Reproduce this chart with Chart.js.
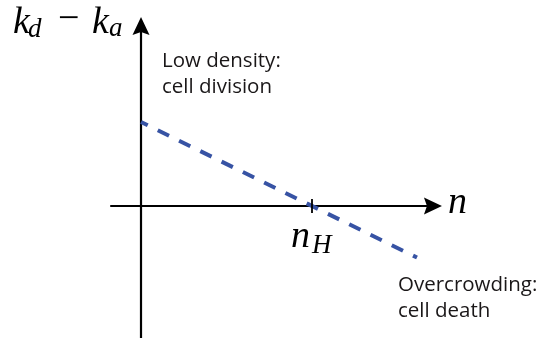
<!DOCTYPE html>
<html>
<head>
<meta charset="utf-8">
<script src="https://cdn.jsdelivr.net/npm/chart.js@4/dist/chart.umd.min.js"></script>
<style>
  html, body { margin: 0; padding: 0; background: #ffffff; }
  canvas { display: block; }
</style>
</head>
<body>
<canvas id="chart" width="541" height="341"></canvas>
<script>
// Density n, in units of the homeostatic density n_H
const densities = [0, 1.614];
// Net rate k_d - k_a, scaled to 1 at n = 0
const netRates = [1, -0.614];
// Where the net rate changes sign
const homeostaticDensity = 1;
// Extent of the drawn axes (data units)
const densityAxisSpan = [-0.18, 1.76];
const rateAxisSpan = [-1.57, 2.25];
// Annotation text
const lowDensityLines = ['Low density:', 'cell division'];
const crowdedLines = ['Overcrowding:', 'cell death'];

const INK = '#000000';
const LINE_BLUE = '#3753a4';
const MATH_FONT = '"Liberation Serif", "DejaVu Serif", serif';
const TEXT_FONT = '"Open Sans", "Noto Sans", sans-serif';

function arrowHead(ctx, tipX, tipY, dirX, dirY) {
  const len = 18, half = 8.5, notch = 3;
  const px = -dirY, py = dirX;
  ctx.beginPath();
  ctx.moveTo(tipX, tipY);
  ctx.lineTo(tipX - dirX * len + px * half, tipY - dirY * len + py * half);
  ctx.lineTo(tipX - dirX * (len - notch), tipY - dirY * (len - notch));
  ctx.lineTo(tipX - dirX * len - px * half, tipY - dirY * len - py * half);
  ctx.closePath();
  ctx.fill();
}

const axesPlugin = {
  id: 'phaseAxes',
  beforeDatasetsDraw(chart) {
    const { ctx, scales: { x, y } } = chart;
    const x0 = x.getPixelForValue(0), y0 = y.getPixelForValue(0);
    const xa = x.getPixelForValue(densityAxisSpan[0]);
    const xb = x.getPixelForValue(densityAxisSpan[1]);
    const ya = y.getPixelForValue(rateAxisSpan[0]);
    const yb = y.getPixelForValue(rateAxisSpan[1]);
    ctx.save();
    ctx.strokeStyle = INK;
    ctx.fillStyle = INK;
    ctx.lineWidth = 2.2;
    ctx.beginPath();
    ctx.moveTo(xa, y0); ctx.lineTo(xb - 12, y0);
    ctx.moveTo(x0, ya); ctx.lineTo(x0, yb + 12);
    ctx.stroke();
    arrowHead(ctx, xb, y0, 1, 0);
    arrowHead(ctx, x0, yb, 0, -1);
    ctx.restore();
  },
  afterDatasetsDraw(chart) {
    const { ctx, scales: { x, y } } = chart;
    const x0 = x.getPixelForValue(0), y0 = y.getPixelForValue(0);
    const xh = x.getPixelForValue(homeostaticDensity);
    const xb = x.getPixelForValue(densityAxisSpan[1]);
    const yb = y.getPixelForValue(rateAxisSpan[1]);
    ctx.save();
    ctx.strokeStyle = INK;
    ctx.fillStyle = INK;
    // tick at n_H
    ctx.lineWidth = 1.8;
    ctx.beginPath();
    ctx.moveTo(xh, y0 - 7); ctx.lineTo(xh, y0 + 7);
    ctx.stroke();

    ctx.textBaseline = 'alphabetic';
    ctx.textAlign = 'left';
    // y-axis label: k_d − k_a
    const lx = x0 - 128, ly = yb + 16;
    ctx.font = 'italic 38px ' + MATH_FONT;
    ctx.fillText('k', lx, ly);
    ctx.font = 'italic 27px ' + MATH_FONT;
    ctx.fillText('d', lx + 15, ly + 4);
    ctx.font = '38px ' + MATH_FONT;
    ctx.fillText('\u2212', lx + 45, ly - 3);
    ctx.font = 'italic 38px ' + MATH_FONT;
    ctx.fillText('k', lx + 79, ly);
    ctx.font = 'italic 27px ' + MATH_FONT;
    ctx.fillText('a', lx + 96, ly + 3);

    // x-axis label: n
    ctx.font = 'italic 38px ' + MATH_FONT;
    ctx.fillText('n', xb + 6, y0 + 7);

    // n_H under the tick
    ctx.fillText('n', xh - 21, y0 + 41);
    ctx.font = 'italic 27px ' + MATH_FONT;
    ctx.fillText('H', xh + 0, y0 + 47);

    // annotations
    ctx.fillStyle = '#1a1718';
    ctx.font = '20.5px ' + TEXT_FONT;
    ctx.fillText(lowDensityLines[0], x0 + 21, 67);
    ctx.fillText(lowDensityLines[1], x0 + 21, 93);
    ctx.fillText(crowdedLines[0], x0 + 257, 291);
    ctx.fillText(crowdedLines[1], x0 + 257, 317);
    ctx.restore();
  }
};

new Chart(document.getElementById('chart'), {
  type: 'scatter',
  data: {
    datasets: [{
      data: densities.map((n, i) => ({ x: n, y: netRates[i] })),
      showLine: true,
      borderColor: LINE_BLUE,
      borderWidth: 4,
      borderDash: [12.5, 11.2],
      borderDashOffset: 5,
      borderCapStyle: 'butt',
      pointRadius: 0,
      fill: false
    }]
  },
  options: {
    responsive: false,
    animation: false,
    devicePixelRatio: 1,
    layout: { padding: 0 },
    plugins: { legend: { display: false }, tooltip: { enabled: false } },
    scales: {
      x: { type: 'linear', display: false, min: -0.8246, max: 2.3392 },
      y: { type: 'linear', display: false, min: -1.6071, max: 2.4524 }
    }
  },
  plugins: [axesPlugin]
});
</script>
</body>
</html>
